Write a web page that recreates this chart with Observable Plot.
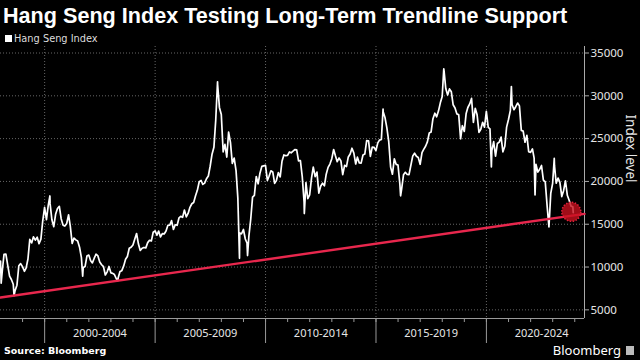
<!DOCTYPE html>
<html><head><meta charset="utf-8">
<script src="https://cdn.jsdelivr.net/npm/d3@7"></script>
<script src="https://cdn.jsdelivr.net/npm/@observablehq/plot@0.6"></script>
<style>
html,body{margin:0;padding:0;background:#000;width:640px;height:360px;overflow:hidden;}
#wrap{position:relative;width:640px;height:360px;}
#title{position:absolute;left:3px;top:3px;font:bold 21.6px "Liberation Sans",Arial,sans-serif;color:#fff;white-space:nowrap;}
#legend{position:absolute;left:5px;top:33px;font:9.8px "DejaVu Sans",sans-serif;color:#ddd;display:flex;align-items:center;white-space:nowrap;}
#legend .sw{width:7px;height:7px;background:#fff;margin-right:2px;}
#chart{position:absolute;left:0;top:46px;}
#source{position:absolute;left:4px;top:345px;font:bold 9.5px "DejaVu Sans",sans-serif;color:#fff;}
#logo{position:absolute;right:6px;top:341px;font:13px "Noto Sans",sans-serif;color:#fff;display:flex;align-items:center;}
#logo .ic{display:inline-block;width:8px;height:9px;background:#bbb;margin-left:5px;}
</style></head>
<body>
<div id="wrap">
  <div id="title">Hang Seng Index Testing Long-Term Trendline Support</div>
  <div id="legend"><span class="sw"></span>Hang Seng Index</div>
  <div id="chart"></div>
  <div id="source">Source: Bloomberg</div>
  <div id="logo">Bloomberg<span class="ic"></span></div>
</div>
<script>
// Monthly closes of the Hang Seng Index, Jan 1998 .. Nov 2023
const monthlyClose = [
  /*1998*/ 9568, 11480, 11519, 10227, 8934, 8543, 7991, 7275, 7883, 10155, 10403, 10049,
  /*1999*/ 9506, 9879, 10942, 13222, 12816, 13532, 13143, 13483, 12733, 13256, 15377, 16962,
  /*2000*/ 15532, 17170, 17407, 15519, 14713, 16155, 16841, 17097, 15649, 14895, 14784, 15096,
  /*2001*/ 16102, 14788, 12761, 13387, 13174, 13043, 12316, 11090, 9951, 10073, 11279, 11397,
  /*2002*/ 10725, 10482, 11033, 11498, 11302, 10599, 10268, 10043, 9072, 9441, 10070, 9321,
  /*2003*/ 9258, 9123, 8634, 8717, 9487, 9577, 10134, 10908, 11230, 12190, 12318, 12576,
  /*2004*/ 13289, 13918, 12682, 11942, 12198, 12286, 12238, 12850, 13120, 13054, 14060, 14230,
  /*2005*/ 13721, 14195, 13516, 13909, 13868, 14201, 14880, 14904, 15429, 14386, 14937, 14876,
  /*2006*/ 15753, 15918, 15805, 16661, 15857, 16267, 16971, 17392, 17543, 18324, 18960, 19965,
  /*2007*/ 20107, 19651, 19801, 20319, 20635, 21773, 23185, 23984, 27143, 31352, 28643, 27813,
  /*2008*/ 23456, 24332, 22849, 25755, 24533, 22102, 22731, 21262, 18016, 13969, 13888, 14387,
  /*2009*/ 13278, 12812, 13576, 15521, 18171, 18379, 20573, 19724, 20955, 21753, 21822, 21873,
  /*2010*/ 20122, 20609, 21239, 21108, 19765, 20129, 21030, 20537, 22359, 23096, 23008, 23035,
  /*2011*/ 23447, 23338, 23528, 23721, 23684, 22398, 22440, 20535, 17592, 19864, 17989, 18434,
  /*2012*/ 20390, 21680, 20556, 21094, 18630, 19441, 19796, 19483, 20840, 21642, 22030, 22657,
  /*2013*/ 23730, 23020, 22300, 22737, 22392, 20803, 21883, 21731, 22860, 23206, 23881, 23306,
  /*2014*/ 22035, 22837, 22151, 22134, 23082, 23191, 24757, 24742, 22933, 23998, 23987, 23605,
  /*2015*/ 24507, 24823, 24901, 28133, 27424, 26250, 24636, 21671, 20846, 22640, 21996, 21914,
  /*2016*/ 19683, 19112, 20777, 21067, 20815, 20794, 21891, 22977, 23297, 22935, 22790, 22001,
  /*2017*/ 23361, 23741, 24112, 24615, 25661, 25765, 27324, 27970, 27554, 28246, 29177, 29919,
  /*2018*/ 32887, 30845, 30093, 30808, 30469, 28955, 28583, 27889, 27789, 24980, 26507, 25846,
  /*2019*/ 27942, 28633, 29051, 29699, 26901, 28543, 27778, 25725, 26092, 26907, 26346, 28190,
  /*2020*/ 26313, 26130, 23603, 24644, 22961, 24427, 24595, 25177, 23459, 24107, 26341, 27231,
  /*2021*/ 28284, 28980, 28378, 28725, 29152, 28828, 25961, 25879, 24576, 25377, 23475, 23398,
  /*2022*/ 23802, 22713, 21997, 21089, 21415, 21860, 20157, 19954, 17223, 14687, 18597, 19781,
  /*2023*/ 21842, 19786, 20400, 19895, 18234, 18916, 20079, 18382, 17810, 17112, 17043
];
// Intra-month turning points and the series ends
const extremeDates = ["1998-01-02","1998-01-12","1998-08-13","2000-03-28","2001-09-21","2003-04-25",
  "2007-10-30","2008-10-27","2009-03-09","2011-10-04","2015-04-28","2016-02-12","2018-01-26",
  "2020-03-23","2021-02-17","2022-03-15","2023-01-27","2023-12-07"];
const extremeValues = [10680, 8121, 6660, 18302, 8934, 8409,
  31638, 11016, 11345, 16250, 28443, 18320, 33154,
  21696, 31085, 18415, 22689, 16345];

// Trendline support and highlighted test point
const trendDates = ["1998-01-01", "2024-06-10"];
const trendValues = [6440, 16215];
const markDates = ["2023-11-05"];
const markValues = [16450];

// Axis ticks and period labels
const yTicks = [5000, 10000, 15000, 20000, 25000, 30000, 35000];
const periodStarts = [2000, 2005, 2010, 2015, 2020];
const periodLabels = ["2000-2004", "2005-2009", "2010-2014", "2015-2019", "2020-2024"];
const xDomain = ["1998-01-01", "2024-06-10"];
const yDomain = [3990, 35760];

const series = monthlyClose.map((v, i) => ({date: new Date(Date.UTC(1998, i + 1, 0)), value: v}))
  .concat(extremeDates.map((d, i) => ({date: new Date(d), value: extremeValues[i]})))
  .sort((a, b) => a.date - b.date);
const trend = trendDates.map((d, i) => ({date: new Date(d), value: trendValues[i]}));
const marks = markDates.map((d, i) => ({date: new Date(d), value: markValues[i]}));
const yearTicks = d3.range(1999, 2025).map(y => new Date(Date.UTC(y, 0, 1)));
const boundaries = periodStarts.map(y => new Date(Date.UTC(y, 0, 1)));
const mids = periodStarts.map(y => new Date(Date.UTC(y + 2, 6, 2)));
const labelOf = new Map(mids.map((d, i) => [+d, periodLabels[i]]));

const chart = Plot.plot({
  width: 640, height: 300,
  marginLeft: 0, marginRight: 56, marginTop: 0, marginBottom: 28,
  style: {background: "#000", color: "#ddd", fontFamily: "'Noto Sans', sans-serif", fontSize: "11px"},
  x: {type: "utc", domain: xDomain.map(d => new Date(d))},
  y: {domain: yDomain},
  marks: [
    Plot.gridY(yTicks, {stroke: "#666", strokeOpacity: 1, strokeDasharray: "1,2"}),
    Plot.gridX(boundaries, {stroke: "#666", strokeOpacity: 1, strokeDasharray: "1,2"}),
    Plot.axisY(yTicks, {anchor: "right", tickSize: 4, tickPadding: 2, label: null, stroke: "#aaa",
      tickFormat: d => String(d), fontSize: 11.5, fill: "#e6e6e6"}),
    Plot.text(["Index level"], {frameAnchor: "right", dx: 46, rotate: 90, fontSize: 13.5, fill: "#e6e6e6"}),
    Plot.axisX(yearTicks, {tickSize: 4, tickFormat: () => "", stroke: "#999", label: null}),
    Plot.axisX(boundaries, {tickSize: 25, tickFormat: () => "", stroke: "#999", label: null}),
    Plot.axisX(mids, {tickSize: 0, tickPadding: 11, tickFormat: d => labelOf.get(+d), label: null,
      fontSize: 11, fill: "#e6e6e6"}),
    Plot.ruleY([yDomain[0]], {stroke: "#999"}),
    Plot.ruleX([new Date(xDomain[1])], {stroke: "#aaa"}),
    Plot.line(series, {x: "date", y: "value", stroke: "#fff", strokeWidth: 1.7}),
    Plot.line(trend, {x: "date", y: "value", stroke: "#e8274d", strokeWidth: 2.4}),
    Plot.dot(marks, {x: "date", y: "value", r: 9.5, fill: "#c8101e", fillOpacity: 0.8, stroke: "#e0203a", strokeDasharray: "1.5,1.5"})
  ]
});
document.getElementById("chart").append(chart);
</script>
</body></html>
